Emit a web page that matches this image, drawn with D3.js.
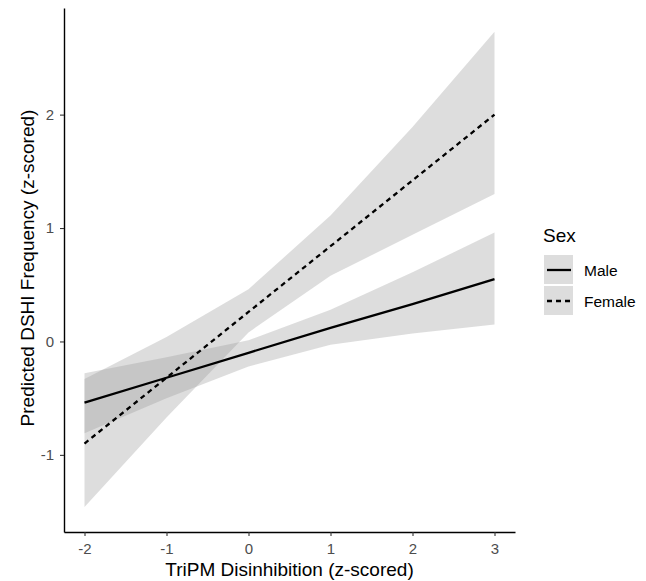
<!DOCTYPE html>
<html>
<head>
<meta charset="utf-8">
<script src="https://cdn.jsdelivr.net/npm/d3@7"></script>
<style>
  body { margin: 0; background: #fff; }
  text { font-family: "Liberation Sans", Arial, sans-serif; }
</style>
</head>
<body>
<script>
var width = 646;
var height = 581;

// predictions from the model, at each integer of the predictor
var xValues = [-2, -1, 0, 1, 2, 3];
var maleFit = [-0.54, -0.32, -0.10, 0.12, 0.33, 0.55];
var maleLow = [-0.81, -0.50, -0.22, -0.03, 0.07, 0.15];
var maleHigh = [-0.28, -0.14, 0.01, 0.28, 0.61, 0.96];
var femaleFit = [-0.90, -0.32, 0.26, 0.84, 1.42, 2.00];
var femaleLow = [-1.46, -0.67, 0.08, 0.58, 0.94, 1.30];
var femaleHigh = [-0.33, 0.04, 0.46, 1.11, 1.89, 2.73];

var xTicks = [-2, -1, 0, 1, 2, 3];
var yTicks = [-1, 0, 1, 2];
var sexLabels = ['Male', 'Female'];

var margin = {left: 64, right: 131, top: 8, bottom: 49};

var svg = d3.select('body').append('svg')
  .attr('width', width).attr('height', height);

// ggplot style 5% expansion
var x = d3.scaleLinear().domain([-2.25, 3.25])
  .range([margin.left, width - margin.right]);
var y = d3.scaleLinear().domain([-1.68, 2.94])
  .range([height - margin.bottom, margin.top]);

var makeSeries = function(fit, low, high) {
  return xValues.map(function(v, i) {
    return {x: v, fit: fit[i], low: low[i], high: high[i]};
  });
};

var series = [
  {name: 'Male', dash: null, data: makeSeries(maleFit, maleLow, maleHigh)},
  {name: 'Female', dash: '5,4', data: makeSeries(femaleFit, femaleLow, femaleHigh)}
];

var area = d3.area()
  .x(function(d) { return x(d.x); })
  .y0(function(d) { return y(d.low); })
  .y1(function(d) { return y(d.high); });

var line = d3.line()
  .x(function(d) { return x(d.x); })
  .y(function(d) { return y(d.fit); });

svg.selectAll('path.band').data(series).enter().append('path')
  .attr('class', 'band')
  .attr('d', function(d) { return area(d.data); })
  .style('fill', '#999')
  .style('fill-opacity', 0.33);

svg.selectAll('path.fit').data(series).enter().append('path')
  .attr('class', 'fit')
  .attr('d', function(d) { return line(d.data); })
  .style('fill', 'none')
  .style('stroke', '#000')
  .style('stroke-width', 2.3)
  .style('stroke-dasharray', function(d) { return d.dash; });

// axes, plain hyphen for negatives like R does
var plain = function(d) { return String(d); };
var xAxis = svg.append('g')
  .attr('transform', 'translate(0,' + (height - margin.bottom) + ')')
  .call(d3.axisBottom(x).tickValues(xTicks).tickSize(4).tickPadding(7)
    .tickSizeOuter(0).tickFormat(plain));
var yAxis = svg.append('g')
  .attr('transform', 'translate(' + margin.left + ',0)')
  .call(d3.axisLeft(y).tickValues(yTicks).tickSize(4).tickPadding(6)
    .tickSizeOuter(0).tickFormat(plain));

[xAxis, yAxis].forEach(function(g) {
  g.select('.domain').style('stroke', '#000').style('stroke-width', 1.4);
  g.selectAll('.tick line').style('stroke', '#333').style('stroke-width', 1.1);
  g.selectAll('.tick text')
    .style('fill', '#4d4d4d')
    .style('font-size', '15px')
    .style('font-family', '"Liberation Sans", Arial, sans-serif');
});

svg.append('text')
  .attr('x', (margin.left + width - margin.right) / 2)
  .attr('y', 576)
  .attr('text-anchor', 'middle')
  .style('font-size', '19px')
  .text('TriPM Disinhibition (z-scored)');

svg.append('text')
  .attr('transform', 'translate(34,' + ((margin.top + height - margin.bottom) / 2 - 2) + ') rotate(-90)')
  .attr('text-anchor', 'middle')
  .style('font-size', '19px')
  .text('Predicted DSHI Frequency (z-scored)');

// legend
var legend = svg.append('g').attr('transform', 'translate(543,0)');
legend.append('text')
  .attr('x', 0).attr('y', 242)
  .style('font-size', '19px')
  .text('Sex');

var keys = legend.selectAll('g.key').data(series).enter().append('g')
  .attr('class', 'key')
  .attr('transform', function(d, i) { return 'translate(0,' + (255 + i * 31) + ')'; });

keys.append('rect')
  .attr('x', 1).attr('y', 0)
  .attr('width', 29).attr('height', 29)
  .style('fill', '#999').style('fill-opacity', 0.33);

keys.append('line')
  .attr('x1', 4).attr('x2', 28)
  .attr('y1', 15).attr('y2', 15)
  .style('stroke', '#000').style('stroke-width', 2.3)
  .style('stroke-dasharray', function(d) { return d.dash; });

keys.append('text')
  .attr('x', 41).attr('y', 20.5)
  .style('font-size', '15.5px')
  .text(function(d, i) { return sexLabels[i]; });
</script>
</body>
</html>
